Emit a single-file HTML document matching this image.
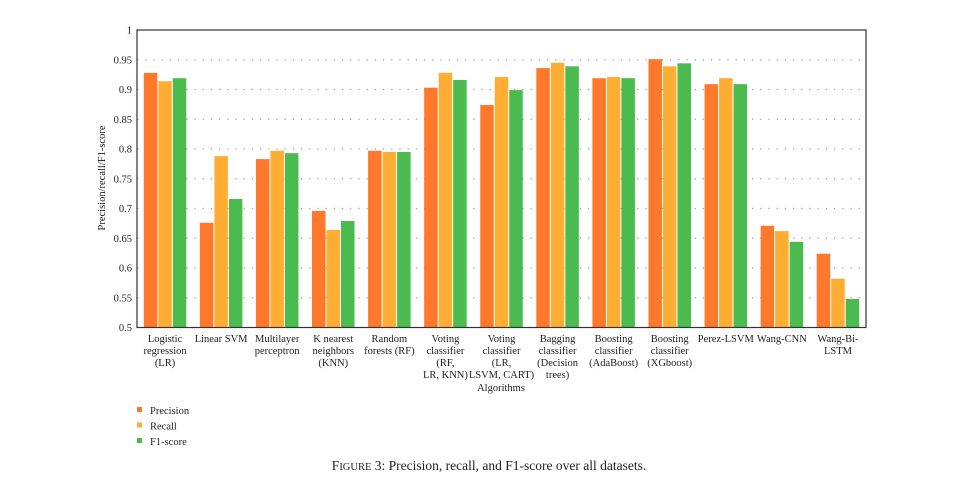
<!DOCTYPE html>
<html><head><meta charset="utf-8"><style>
body{margin:0;background:#fff;}
svg text{font-family:"Liberation Serif",serif;fill:#222;}
</style></head><body>
<svg id="chart" width="978" height="479" xmlns="http://www.w3.org/2000/svg"></svg>
<script>
const categories=[["Logistic","regression","(LR)"],["Linear SVM"],["Multilayer","perceptron"],["K nearest","neighbors","(KNN)"],["Random","forests (RF)"],["Voting","classifier","(RF,","LR, KNN)"],["Voting","classifier","(LR,","LSVM, CART)"],["Bagging","classifier","(Decision","trees)"],["Boosting","classifier","(AdaBoost)"],["Boosting","classifier","(XGboost)"],["Perez-LSVM"],["Wang-CNN"],["Wang-Bi-","LSTM"]];
const precision=[0.928,0.676,0.783,0.696,0.797,0.903,0.874,0.936,0.919,0.951,0.909,0.671,0.624];
const recall=[0.914,0.788,0.797,0.664,0.795,0.928,0.921,0.945,0.921,0.939,0.919,0.662,0.582];
const f1=[0.919,0.716,0.793,0.679,0.795,0.916,0.899,0.939,0.919,0.944,0.909,0.644,0.548];
const seriesNames=["Precision","Recall","F1-score"];
const yTicks=[0.5,0.55,0.6,0.65,0.7,0.75,0.8,0.85,0.9,0.95,1];
const yTickLabels=["0.5","0.55","0.6","0.65","0.7","0.75","0.8","0.85","0.9","0.95","1"];

const NS="http://www.w3.org/2000/svg";
const svg=document.getElementById('chart');
const L=137,R=866,T=30,B=327.5,ymin=0.5,ymax=1;
const colors=["#FF782C","#FFAE33","#4BBB50"];
const y=v=>B-(v-ymin)/(ymax-ymin)*(B-T);
const gw=(R-L)/categories.length;
const x=i=>L+gw*i+gw/2;
function mk(tag,attrs,parent){const e=document.createElementNS(NS,tag);for(const k in attrs)e.setAttribute(k,attrs[k]);(parent||svg).appendChild(e);return e;}

yTicks.forEach((t,i)=>{
  if(t>ymin&&t<ymax){const g=mk('line',{x1:L,x2:R,y1:y(t),y2:y(t),stroke:'#999','stroke-width':1.2,'stroke-dasharray':'1.2 7'});
  
  }
  const tx=mk('text',{x:L-5,y:y(t)+3.5,'text-anchor':'end','font-size':'10.5'});
  tx.textContent=yTickLabels[i];
  
  
});
const series=[precision,recall,f1];
const bw=13.5;
categories.forEach((c,i)=>{
  series.forEach((s,j)=>{
    const bx=x(i)-bw*1.5-1+j*(bw+1);
    const r=mk('rect',{x:bx,y:y(s[i]),width:bw,height:B-y(s[i]),fill:colors[j]});
    
    
  });
  c.forEach((line,k)=>{
    const t=mk('text',{x:x(i),y:342+k*12,'text-anchor':'middle','font-size':'10.5'});
    t.textContent=line;
    
    
  });
});
const frame=mk('rect',{x:L,y:T,width:R-L,height:B-T,fill:'none',stroke:'#333','stroke-width':1.2});


const yt=mk('text',{transform:'translate(105,178) rotate(-90)','text-anchor':'middle','font-size':'10.5'});
yt.textContent='Precision/recall/F1-score';


const xt=mk('text',{x:501,y:391,'text-anchor':'middle','font-size':'10.5'});
xt.textContent='Algorithms';


seriesNames.forEach((n,j)=>{
  const sq=mk('rect',{x:137,y:407+j*15.5,width:5,height:5,fill:colors[j]});
  
  
  const t=mk('text',{x:150,y:414+j*15.5,'font-size':'10.5'});
  t.textContent=n;
  
  
});
const cap=mk('text',{x:489,y:470,'text-anchor':'middle','font-size':'13.5'});
cap.innerHTML='F<tspan font-size="10.5">IGURE</tspan> 3: Precision, recall, and F1-score over all datasets.';


</script>
</body></html>
